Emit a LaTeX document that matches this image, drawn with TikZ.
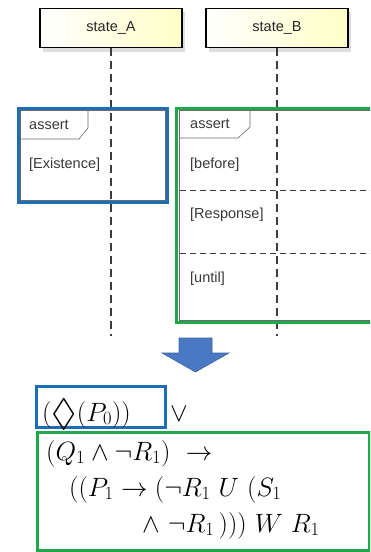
\RequirePackage{fix-cm}
\documentclass[tikz,border=0pt]{standalone}
\usepackage{fontspec}
\setsansfont{Liberation Sans}
\usepackage{amssymb}
\definecolor{bbox}{HTML}{1F6DB5}
\definecolor{gbox}{HTML}{22A64A}
\definecolor{arrowblue}{HTML}{4A78C2}
\definecolor{arrowedge}{HTML}{3A62A8}
\definecolor{lifegray}{HTML}{3C3C3C}
\definecolor{fraggray}{HTML}{6A6A6A}
\tikzset{
  statebox/.style={draw=black, line width=1.3pt, left color=white, right color=yellow!22,
    minimum width=142pt, minimum height=39pt, inner sep=0pt,
    font=\sffamily\fontsize{14.5}{17}\selectfont, text=black!85},
  boxshadow/.style={fill=black!13},
  lifeline/.style={draw=lifegray, line width=1.3pt, dash pattern=on 8pt off 5pt},
  frag/.style={draw=fraggray, line width=0.6pt},
  sepline/.style={draw=lifegray, line width=1pt, dash pattern=on 6pt off 4pt},
  fraglabel/.style={anchor=base west, inner sep=0pt, font=\sffamily\fontsize{14.5}{17}\selectfont, text=black!78},
  hlblue/.style={draw=bbox, line width=3pt},
  hlgreen/.style={draw=gbox, line width=3pt},
  formula/.style={anchor=base west, inner sep=0pt, font=\fontsize{26.5}{32}\selectfont},
}
\newcommand{\bigdiam}{\vcenter{\hbox{\fontsize{38}{38}\selectfont$\Diamond$}}}
\begin{document}
\begin{tikzpicture}[x=1pt,y=-1pt]
\useasboundingbox (0,0) rectangle (370,552);
\clip (0,0) rectangle (370,552);
% state boxes
\fill[boxshadow] (43,12) rectangle (185,52);
\fill[boxshadow] (209,12) rectangle (351,52);
\node[statebox] (sA) at (111,28) {state\_A};
\node[statebox] (sB) at (277,28) {state\_B};
% lifelines
\coordinate (endA) at (111,336);
\coordinate (endB) at (277,336);
\draw[lifeline] (sA.south) -- (endA);
\draw[lifeline] (sB.south) -- (endB);
% fragment A
\draw[frag] (20,110) rectangle (165,200);
\draw[frag] (20,110) -- (88,110) -- (88,128) -- (79,139) -- (20,139);
\node[fraglabel] (asA) at (29,129) {assert};
\node[fraglabel] (exA) at (29,168) {[Existence]};
% fragment B
\draw[frag] (179,110) rectangle (380,320);
\draw[frag] (179,110) -- (250,110) -- (250,127) -- (238,138) -- (179,138);
\node[fraglabel] (asB) at (190,128) {assert};
\node[fraglabel] (bfB) at (190,168) {[before]};
\node[fraglabel] (rsB) at (190,218) {[Response]};
\node[fraglabel] (utB) at (190,282) {[until]};
\coordinate (s1a) at (180,190); \coordinate (s1b) at (372,190);
\coordinate (s2a) at (180,253); \coordinate (s2b) at (372,253);
\draw[sepline] (s1a) -- (s1b);
\draw[sepline] (s2a) -- (s2b);
% highlight boxes
\draw[hlblue] (18,108) rectangle (167,202);
\draw[hlgreen] (176,108) rectangle (380,322);
% arrow
\draw[fill=arrowblue, draw=arrowedge, line width=0.6pt, line join=miter]
  (179,338) -- (212,338) -- (212,353) -- (229,353) -- (195.5,372) -- (162,353) -- (179,353) -- cycle;
% formula
\draw[hlblue] (36,386) rectangle (165,427);
\node[formula] (f0) at (42,421) {$(\bigdiam(P_0))$};
\node[formula] (or) at (170,421) {$\vee$};
\draw[hlgreen] (37,432) rectangle (369,550);
\node[formula] (f1) at (46,460) {$(Q_1\wedge\neg R_1)\ \rightarrow$};
\node[formula] (f2) at (69,496) {$((P_1\rightarrow(\neg R_1\ U\ (S_1$};
\node[formula] (f3) at (142,532) {$\wedge\ \neg R_1\,)))\ W\ R_1$};
\end{tikzpicture}
\end{document}
